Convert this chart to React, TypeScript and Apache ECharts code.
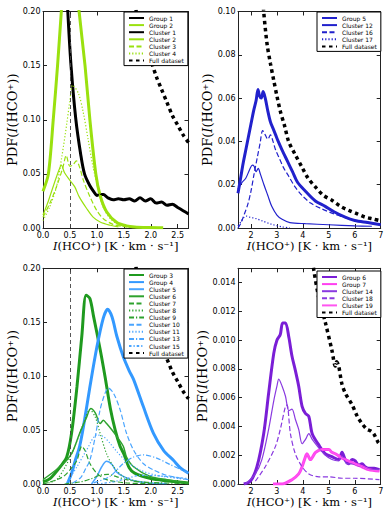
import React, { useEffect, useRef } from 'react';
import * as echarts from 'echarts';

type P = [number, number][];

// ---------- tick values ----------
const xTicksLow = [0, 0.5, 1, 1.5, 2, 2.5];
const xTicksHigh = [2, 3, 4, 5, 6, 7];
const yTicksA = [0, 0.05, 0.1, 0.15, 0.2];
const yTicksB = [0, 0.02, 0.04, 0.06, 0.08, 0.1];
const yTicksC = [0, 0.05, 0.1, 0.15, 0.2];
const yTicksD = [0, 0.002, 0.004, 0.006, 0.008, 0.01, 0.012, 0.014];
const threshold = 0.5;

// ---------- panel A (top-left) ----------
const group1: P = [[0.40,0.26],[0.46,0.20],[0.52,0.15],[0.61,0.10],[0.70,0.068],[0.77,0.05],[0.87,0.039],[0.95,0.033],[1.0,0.030],[1.05,0.031],[1.12,0.031],[1.2,0.028],[1.3,0.026],[1.4,0.027],[1.5,0.026],[1.6,0.027],[1.7,0.025],[1.8,0.028],[1.9,0.025],[2.0,0.027],[2.1,0.023],[2.2,0.024],[2.3,0.021],[2.4,0.022],[2.5,0.019],[2.6,0.016],[2.7,0.013]];
const group2: P = [[0,0.034],[0.1,0.05],[0.19,0.1],[0.27,0.15],[0.34,0.2],[0.4,0.24],[0.5,0.26],[0.6,0.24],[0.67,0.2],[0.78,0.15],[0.87,0.10],[0.98,0.05],[1.06,0.03],[1.18,0.015],[1.37,0.005],[1.55,0.002],[1.7,0.001],[1.95,0.0005],[2.23,0.0003]];
const cluster1: P = [[0.40,0.26],[0.46,0.20],[0.52,0.15],[0.61,0.10],[0.70,0.068],[0.77,0.05],[0.87,0.039],[0.95,0.033],[1.0,0.030],[1.05,0.031],[1.12,0.031],[1.2,0.028],[1.3,0.026],[1.4,0.027],[1.5,0.026],[1.6,0.027],[1.7,0.025],[1.8,0.028],[1.9,0.025],[2.0,0.027],[2.1,0.023],[2.2,0.024],[2.3,0.021],[2.4,0.022],[2.5,0.019],[2.6,0.016],[2.7,0.013]];
const cluster2: P = [[0,0.012],[0.1,0.025],[0.2,0.04],[0.3,0.054],[0.34,0.058],[0.4,0.051],[0.5,0.044],[0.59,0.038],[0.67,0.029],[0.81,0.018],[0.93,0.01],[1.06,0.0055],[1.25,0.0025],[1.4,0.001]];
const cluster3: P = [[0,0.01],[0.12,0.022],[0.25,0.038],[0.37,0.056],[0.43,0.067],[0.5,0.057],[0.55,0.058],[0.62,0.062],[0.68,0.056],[0.75,0.044],[0.87,0.029],[1.0,0.016],[1.12,0.0086],[1.3,0.0034],[1.55,0.001]];
const cluster4: P = [[0,0.007],[0.12,0.019],[0.25,0.038],[0.35,0.066],[0.44,0.096],[0.5,0.118],[0.55,0.132],[0.66,0.124],[0.75,0.106],[0.84,0.081],[0.93,0.056],[1.03,0.035],[1.12,0.019],[1.25,0.0086],[1.43,0.0025],[1.68,0.0003]];
const fullLow: P = [[1.6,0.24],[1.73,0.2],[1.85,0.178],[2.0,0.155],[2.11,0.139],[2.2,0.128],[2.3,0.116],[2.4,0.104],[2.5,0.095],[2.6,0.086],[2.7,0.079]];

// ---------- panel B (top-right) ----------
const group5: P = [[1.5,0.016],[1.6,0.023],[1.7,0.03],[1.8,0.036],[1.9,0.042],[2.0,0.048],[2.1,0.054],[2.2,0.059],[2.27,0.064],[2.33,0.061],[2.4,0.060],[2.47,0.063],[2.55,0.06],[2.65,0.054],[2.75,0.049],[2.85,0.046],[2.95,0.043],[3.05,0.04],[3.2,0.036],[3.4,0.031],[3.6,0.026],[3.8,0.021],[4.1,0.017],[4.48,0.0125],[4.86,0.01],[5.2,0.0075],[5.63,0.005],[6.0,0.0035],[6.5,0.0025],[7.0,0.0015]];
const cluster12: P = [[1.5,0.018],[1.65,0.021],[1.8,0.023],[1.95,0.027],[2.05,0.029],[2.12,0.0285],[2.2,0.026],[2.28,0.0275],[2.36,0.025],[2.5,0.02],[2.65,0.015],[2.8,0.01],[3.0,0.006],[3.2,0.004],[3.5,0.0025],[4.1,0.002],[5.0,0.0015],[6.0,0.001],[6.66,0.0008]];
const cluster16: P = [[1.5,0.0],[1.6,0.002],[1.75,0.0066],[1.88,0.011],[2.0,0.017],[2.12,0.025],[2.25,0.033],[2.35,0.039],[2.45,0.045],[2.55,0.043],[2.65,0.041],[2.75,0.043],[2.85,0.04],[2.95,0.036],[3.1,0.032],[3.25,0.028],[3.45,0.024],[3.7,0.019],[3.97,0.015],[4.3,0.0115],[4.7,0.009],[5.2,0.0065],[5.7,0.0045],[6.2,0.003],[6.7,0.002],[7.0,0.0015]];
const cluster17: P = [[1.5,0.001],[1.62,0.003],[1.72,0.0048],[1.82,0.0055],[1.95,0.005],[2.2,0.0043],[2.45,0.0032],[2.8,0.0017],[3.2,0.0005],[3.5,0.0001]];
const fullHighB: P = [[2.4,0.115],[2.49,0.1],[2.62,0.085],[2.75,0.076],[2.88,0.068],[3.0,0.061],[3.13,0.054],[3.3,0.047],[3.45,0.04],[3.7,0.034],[3.97,0.028],[4.2,0.023],[4.48,0.019],[4.8,0.015],[5.12,0.0128],[5.45,0.01],[5.76,0.0082],[6.1,0.0065],[6.4,0.005],[6.7,0.0042],[7.0,0.0033]];

// ---------- panel C (bottom-left) ----------
const group3: P = [[0,0.002],[0.13,0.005],[0.32,0.016],[0.44,0.025],[0.53,0.047],[0.63,0.09],[0.72,0.137],[0.8,0.175],[0.87,0.172],[0.94,0.155],[1.06,0.125],[1.15,0.1],[1.25,0.07],[1.34,0.05],[1.43,0.035],[1.5,0.028],[1.6,0.015],[1.7,0.01],[2.0,0.005],[2.3,0.003],[2.7,0.001]];
const group4: P = [[0.45,0.0],[0.53,0.01],[0.6,0.022],[0.68,0.035],[0.75,0.053],[0.87,0.09],[1.0,0.127],[1.12,0.154],[1.2,0.162],[1.28,0.155],[1.37,0.137],[1.49,0.118],[1.6,0.105],[1.68,0.097],[1.86,0.072],[2.05,0.047],[2.24,0.031],[2.42,0.022],[2.55,0.015],[2.7,0.01]];
const cluster5: P = [[0.9,0.0],[1.0,0.007],[1.09,0.016],[1.18,0.021],[1.28,0.018],[1.37,0.011],[1.49,0.007],[1.68,0.003],[2.0,0.001],[2.3,0.0005]];
const cluster6: P = [[0,0.004],[0.24,0.013],[0.44,0.022],[0.55,0.03],[0.68,0.047],[0.81,0.062],[0.886,0.07],[0.97,0.066],[1.06,0.056],[1.12,0.059],[1.18,0.056],[1.28,0.05],[1.37,0.044],[1.49,0.035],[1.55,0.025],[1.68,0.016],[1.99,0.007],[2.3,0.004],[2.7,0.001]];
const cluster7: P = [[0.0,0.0],[0.2,0.003],[0.38,0.007],[0.5,0.013],[0.63,0.022],[0.72,0.035],[0.78,0.031],[0.87,0.019],[1.0,0.01],[1.18,0.004],[1.55,0.001],[2.0,0.0003]];
const cluster8: P = [[0.1,0.001],[0.25,0.004],[0.38,0.013],[0.56,0.031],[0.75,0.056],[0.87,0.069],[0.97,0.062],[1.06,0.047],[1.18,0.028],[1.31,0.016],[1.49,0.007],[1.8,0.002],[2.2,0.0005]];
const cluster9: P = [[0.4,0.0],[0.7,0.002],[0.9,0.005],[1.05,0.008],[1.2,0.009],[1.35,0.007],[1.55,0.004],[1.8,0.002],[2.2,0.001],[2.7,0.0005]];
const cluster10: P = [[0.55,0.001],[0.7,0.006],[0.8,0.015],[0.87,0.022],[0.97,0.044],[1.06,0.069],[1.15,0.084],[1.21,0.089],[1.31,0.084],[1.43,0.069],[1.55,0.047],[1.68,0.0315],[1.86,0.019],[2.05,0.013],[2.3,0.008],[2.7,0.004]];
const cluster11: P = [[0.45,0.002],[0.63,0.016],[0.81,0.0315],[1.0,0.0455],[1.12,0.044],[1.24,0.038],[1.37,0.03],[1.55,0.021],[1.8,0.013],[2.11,0.008],[2.7,0.004]];
const cluster13: P = [[0.94,0.001],[1.24,0.007],[1.49,0.019],[1.68,0.025],[1.86,0.027],[2.11,0.024],[2.36,0.018],[2.7,0.01]];
const cluster15: P = [[1.0,0.0],[1.3,0.002],[1.55,0.005],[1.8,0.008],[2.17,0.0075],[2.7,0.005]];

// ---------- panel D (bottom-right) ----------
const group6: P = [[1.72,0.0],[1.98,0.0002],[2.23,0.0012],[2.49,0.0035],[2.68,0.0063],[2.88,0.0091],[3.0,0.01],[3.13,0.0104],[3.22,0.0112],[3.33,0.0112],[3.46,0.0102],[3.58,0.0089],[3.71,0.0079],[3.84,0.0068],[3.97,0.0054],[4.1,0.0049],[4.23,0.0047],[4.36,0.0035],[4.62,0.0027],[4.87,0.0021],[5.12,0.0019],[5.38,0.0017],[5.51,0.0022],[5.63,0.0017],[5.76,0.0014],[5.9,0.0017],[6.02,0.0016],[6.15,0.0013],[6.28,0.0014],[6.4,0.0012],[6.53,0.0011],[6.75,0.0011],[6.95,0.001]];
const group7: P = [[2.85,0.0],[3.2,0.0],[3.58,0.0003],[3.84,0.0007],[3.97,0.0012],[4.1,0.0019],[4.16,0.0021],[4.29,0.0017],[4.49,0.0022],[4.74,0.0024],[5.0,0.0024],[5.12,0.0022],[5.25,0.0021],[5.51,0.0018],[5.76,0.0016],[6.0,0.0014],[6.28,0.0012],[6.53,0.001],[6.95,0.0009]];
const cluster14: P = [[1.78,0.0],[2.17,0.0007],[2.42,0.0017],[2.68,0.0038],[2.88,0.0058],[3.0,0.0068],[3.07,0.0073],[3.2,0.0068],[3.33,0.0061],[3.46,0.0051],[3.58,0.0052],[3.71,0.0045],[3.84,0.0038],[3.97,0.0028],[4.1,0.0031],[4.23,0.0035],[4.36,0.0031],[4.62,0.0025],[4.87,0.002],[5.12,0.0017],[5.38,0.0016],[5.51,0.0019],[5.7,0.0014],[5.9,0.0014],[6.1,0.0013],[6.28,0.0012],[6.6,0.001],[6.95,0.001]];
const cluster18: P = [[2.17,0.0002],[2.55,0.0012],[2.94,0.0026],[3.13,0.0038],[3.33,0.0054],[3.39,0.0055],[3.52,0.0035],[3.71,0.0021],[3.97,0.0012],[4.23,0.0007],[4.62,0.0005],[5.0,0.0005],[5.51,0.0004],[6.0,0.0004],[6.95,0.0003]];
const cluster19: P = [[2.85,0.0],[3.2,0.0],[3.58,0.0003],[3.84,0.0007],[3.97,0.0012],[4.1,0.0019],[4.16,0.0021],[4.29,0.0017],[4.49,0.0022],[4.74,0.0024],[5.0,0.0024],[5.12,0.0022],[5.25,0.0021],[5.51,0.0018],[5.76,0.0016],[6.0,0.0014],[6.28,0.0012],[6.53,0.001],[6.95,0.0009]];
const fullHighD: P = [[4.3,0.0165],[4.42,0.0149],[4.61,0.013],[4.87,0.0112],[5.12,0.0093],[5.25,0.0082],[5.3,0.0085],[5.38,0.0082],[5.5,0.007],[5.64,0.0063],[5.9,0.0055],[6.1,0.0047],[6.28,0.0042],[6.47,0.0038],[6.6,0.0037],[6.73,0.0035],[6.9,0.0029],[7.0,0.0027]];

// ---------- styling ----------
const SANS = 'DejaVu Sans';
const SERIF = 'DejaVu Serif';
const AX = '#222';
const GRIDS = [
  { left: 43, top: 11.5, width: 145.5, height: 216.5 },
  { left: 238, top: 11.5, width: 142.7, height: 216.5 },
  { left: 43, top: 268.3, width: 145.5, height: 215.7 },
  { left: 238, top: 268.3, width: 142.7, height: 215.7 },
];

const X_NAME = '{i|I}{r|(HCO⁺) [K · km · s⁻¹]}';
const Y_NAME = '{r|PDF(}{i|I}{r|(HCO⁺))}';

function titleStyle(size: number) {
  return {
    fontFamily: SERIF, fontSize: size, color: '#000',
    rich: {
      i: { fontFamily: SERIF, fontStyle: 'italic', fontSize: size, color: '#000' },
      r: { fontFamily: SERIF, fontStyle: 'normal', fontSize: size, color: '#000' },
    },
  };
}

function axesFor(i: number, xMin: number, xMax: number, xTicks: number[], xDec: number,
  yMin: number, yMax: number, yTicks: number[], yDec: number) {
  const tick = (vals: number[]) => ({ show: true, inside: true, length: 4, customValues: vals, lineStyle: { color: AX, width: 1 } });
  const line = { show: true, onZero: false, lineStyle: { color: AX, width: 1 } };
  const xb = {
    type: 'value', gridIndex: i, min: xMin, max: xMax, position: 'bottom',
    axisLine: line, axisTick: tick(xTicks), splitLine: { show: false },
    axisLabel: { customValues: xTicks, formatter: (v: number) => v.toFixed(xDec), fontFamily: SANS, fontSize: 8, color: '#000', margin: 3 },
    name: X_NAME, nameLocation: 'middle', nameGap: 12, nameTextStyle: titleStyle(11.5),
  };
  const xt = {
    type: 'value', gridIndex: i, min: xMin, max: xMax, position: 'top',
    axisLine: line, axisTick: tick(xTicks), splitLine: { show: false }, axisLabel: { show: false },
  };
  const yl = {
    type: 'value', gridIndex: i, min: yMin, max: yMax, position: 'left',
    axisLine: line, axisTick: tick(yTicks), splitLine: { show: false },
    axisLabel: { customValues: yTicks, formatter: (v: number) => v.toFixed(yDec), fontFamily: SANS, fontSize: 8, color: '#000', margin: 2.5 },
    name: Y_NAME, nameLocation: 'middle', nameGap: 22, nameRotate: 90, nameTextStyle: titleStyle(13),
  };
  const yr = {
    type: 'value', gridIndex: i, min: yMin, max: yMax, position: 'right',
    axisLine: line, axisTick: tick(yTicks), splitLine: { show: false }, axisLabel: { show: false },
  };
  return { xb, xt, yl, yr };
}

function ln(name: string, data: P, idx: number, color: string, width: number, type: any = 'solid', extra: any = {}) {
  return {
    type: 'line', name, data, xAxisIndex: idx, yAxisIndex: idx,
    color, symbol: 'none', showSymbol: false, smooth: 0.3, clip: true,
    lineStyle: { color, width, type, cap: 'butt' }, itemStyle: { color },
    emphasis: { disabled: true }, silent: true, ...extra,
  };
}

const vline = (idx: number) => ({
  markLine: {
    silent: true, symbol: 'none', label: { show: false },
    lineStyle: { color: '#444', width: 0.9, type: [4, 3] },
    data: [{ xAxis: threshold }],
  },
});

const FULL = { w: 3.5, t: [3.5, 3.5] };
const DASH = [5, 2.5];
const DOT = [1.2, 2];
const DASHDOT = [5, 2, 1.2, 2];
const DASHDOT2 = [2.5, 2, 1.2, 2];

const LIME = '#9ae10f';
const BLUE = '#2121cc';
const GREEN = '#1f9a1f';
const GREEN2 = '#2ea22e';
const SKY = '#3399ff';
const SKY2 = '#4aa5ff';
const PURPLE = '#7a1ed6';
const PURPLE2 = '#8a3ae0';
const MAGENTA = '#ff40f0';
const MAGENTA2 = '#ff55f0';

const legendBase = {
  orient: 'vertical', backgroundColor: '#fff', borderColor: '#000', borderWidth: 1, borderRadius: 0,
  padding: [3, 4, 2, 4], itemWidth: 15, itemHeight: 7, itemGap: 1.1, selectedMode: false,
  itemStyle: { opacity: 0 },
  textStyle: { fontFamily: SANS, fontSize: 6, color: '#000' },
};

export default function App() {
  const ref = useRef<HTMLDivElement>(null);
  useEffect(() => {
    document.body.style.margin = '0';
    const chart = echarts.init(ref.current!, undefined, { renderer: 'svg' });
    const a0 = axesFor(0, 0, 2.7, xTicksLow, 1, 0, 0.2, yTicksA, 2);
    const a1 = axesFor(1, 1.5, 7, xTicksHigh, 0, 0, 0.1, yTicksB, 2);
    const a2 = axesFor(2, 0, 2.7, xTicksLow, 1, 0, 0.2, yTicksC, 2);
    const a3 = axesFor(3, 1.5, 7, xTicksHigh, 0, 0, 0.015, yTicksD, 3);
    const A = [a0, a1, a2, a3];
    const option: any = {
      animation: false,
      backgroundColor: '#fff',
      grid: GRIDS.map(g => ({ ...g, containLabel: false })),
      xAxis: [...A.map(a => a.xb), ...A.map(a => a.xt)],
      yAxis: [...A.map(a => a.yl), ...A.map(a => a.yr)],
      legend: [
        { ...legendBase, left: 124, top: 12, data: ['Group 1', 'Group 2', 'Cluster 1', 'Cluster 2', 'Cluster 3', 'Cluster 4', 'Full dataset'] },
        { ...legendBase, left: 317, top: 12, data: ['Group 5', 'Cluster 12', 'Cluster 16', 'Cluster 17', 'Full dataset'] },
        { ...legendBase, left: 124, top: 269, data: ['Group 3', 'Group 4', 'Cluster 5', 'Cluster 6', 'Cluster 7', 'Cluster 8', 'Cluster 9', 'Cluster 10', 'Cluster 11', 'Cluster 13', 'Cluster 15', 'Full dataset'] },
        { ...legendBase, left: 317, top: 271, data: ['Group 6', 'Group 7', 'Cluster 14', 'Cluster 18', 'Cluster 19', 'Full dataset'] },
      ],
      series: [
        // panel A
        ln('Group 1', group1, 0, '#000', 3, 'solid', vline(0)),
        ln('Group 2', group2, 0, LIME, 3),
        ln('Cluster 1', cluster1, 0, '#000', 1.2),
        ln('Cluster 2', cluster2, 0, LIME, 1.2),
        ln('Cluster 3', cluster3, 0, LIME, 1.2, DASH),
        ln('Cluster 4', cluster4, 0, LIME, 1.2, DOT),
        ln('Full dataset', fullLow, 0, '#000', FULL.w, FULL.t),
        // panel B
        ln('Group 5', group5, 1, BLUE, 3),
        ln('Cluster 12', cluster12, 1, BLUE, 1.2),
        ln('Cluster 16', cluster16, 1, BLUE, 1.2, DASH),
        ln('Cluster 17', cluster17, 1, BLUE, 1.2, DOT),
        ln('Full dataset', fullHighB, 1, '#000', FULL.w, FULL.t),
        // panel C
        ln('Group 3', group3, 2, GREEN, 3, 'solid', vline(2)),
        ln('Group 4', group4, 2, SKY, 3),
        ln('Cluster 5', cluster5, 2, SKY2, 1.5),
        ln('Cluster 6', cluster6, 2, GREEN2, 1.5),
        ln('Cluster 7', cluster7, 2, GREEN2, 1.2, DASH),
        ln('Cluster 8', cluster8, 2, GREEN2, 1.2, DOT),
        ln('Cluster 9', cluster9, 2, GREEN2, 1.2, DASHDOT),
        ln('Cluster 10', cluster10, 2, SKY2, 1.2, DASH),
        ln('Cluster 11', cluster11, 2, SKY2, 1.2, DOT),
        ln('Cluster 13', cluster13, 2, SKY2, 1.2, DASHDOT),
        ln('Cluster 15', cluster15, 2, SKY2, 1.2, DASHDOT2),
        ln('Full dataset', fullLow, 2, '#000', FULL.w, FULL.t),
        // panel D
        ln('Group 6', group6, 3, PURPLE, 3),
        ln('Group 7', group7, 3, MAGENTA, 3),
        ln('Cluster 14', cluster14, 3, PURPLE2, 1.2),
        ln('Cluster 18', cluster18, 3, PURPLE2, 1.2, DASH),
        ln('Cluster 19', cluster19, 3, MAGENTA2, 1.2),
        ln('Full dataset', fullHighD, 3, '#000', FULL.w, FULL.t),
      ],
    };
    chart.setOption(option);
    return () => chart.dispose();
  }, []);
  return <div ref={ref} style={{ width: 390, height: 521, background: '#fff' }} />;
}
